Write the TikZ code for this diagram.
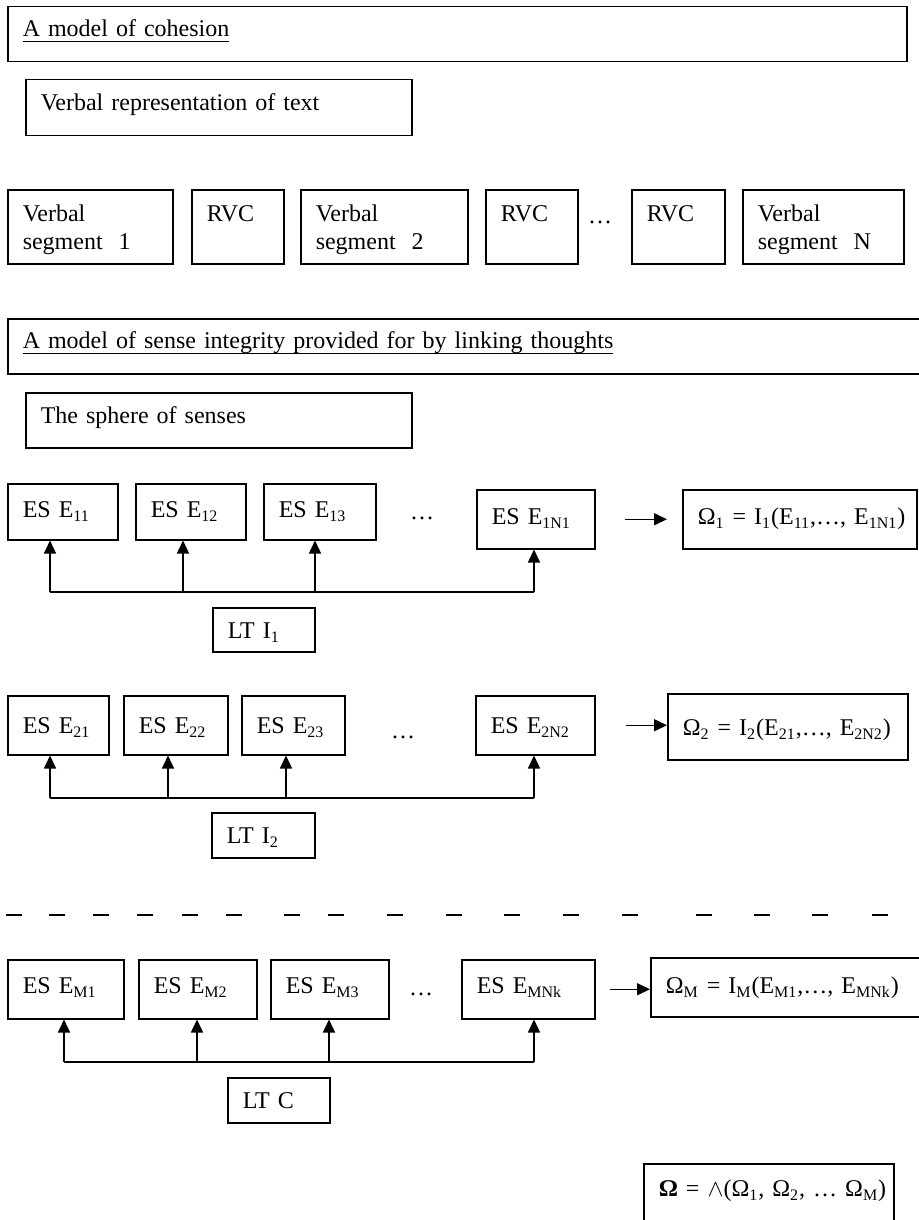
\documentclass[tikz,border=0pt]{standalone}
\usepackage{fontspec}
\setmainfont{Liberation Serif}
\usepackage{tikz}
\usetikzlibrary{arrows.meta}
\newcommand{\uln}[1]{\setbox0\hbox{#1}\rlap{\vrule height -2.2pt depth 2.8pt width \wd0}\box0}
\newcommand{\twoline}[2]{\begin{tabular}[t]{@{}l@{}}#1\\#2\end{tabular}}
\tikzset{
  box/.style={draw, line width=0.75pt, anchor=north west, inner xsep=7.5pt, inner ysep=0pt,
    align=left, font=\fontsize{12}{14}\selectfont},
  arr/.style={line width=0.75pt, -{Triangle[length=6.5pt,width=6pt]}},
  bus/.style={line width=0.75pt},
  dotsnode/.style={anchor=base, inner sep=0pt, font=\fontsize{12}{14}\selectfont}
}

\begin{document}
\begin{tikzpicture}[x=0.5pt,y=-0.5pt]
\useasboundingbox (0,0) rectangle (918,1220);

% cohesion
\node[box, text width=434.5pt, text height=15pt, text depth=12.5pt] (cohesion) at (7,6) {\uln{A model of cohesion}};
\node[box, text width=178pt, text height=15.5pt, text depth=12.5pt] (verbrep) at (25,79) {Verbal representation of text};

\node[box, text width=67.5pt, text height=16pt, text depth=21pt] (seg1) at (7,189) {\twoline{Verbal}{segment~ 1}};
\node[box, text width=31pt, text height=16pt, text depth=21pt] (rvc1) at (191,189) {RVC};
\node[box, text width=68.5pt, text height=16pt, text depth=21pt] (seg2) at (300,189) {\twoline{Verbal}{segment~ 2}};
\node[box, text width=31pt, text height=16pt, text depth=21pt] (rvc2) at (485,189) {RVC};
\node[dotsnode] (segdots) at (600,223) {…};
\node[box, text width=31.5pt, text height=16pt, text depth=21pt] (rvc3) at (631,189) {RVC};
\node[box, text width=65.5pt, text height=16pt, text depth=21pt] (segN) at (742,189) {\twoline{Verbal}{segment~ N}};

% sense integrity
\node[box, text width=449pt, text height=15pt, text depth=12.5pt] (sense) at (7,318) {\uln{A model of sense integrity provided for by linking thoughts}};
\node[box, text width=178pt, text height=15.5pt, text depth=12pt] (sphere) at (25,392) {The sphere of senses};

% first group
\node[box, text width=40pt, text height=17pt, text depth=11pt] (e11) at (7,483) {ES E\textsubscript{11}};
\node[box, text width=40pt, text height=17pt, text depth=11pt] (e12) at (135,483) {ES E\textsubscript{12}};
\node[box, text width=41pt, text height=17pt, text depth=11pt] (e13) at (263,483) {ES E\textsubscript{13}};
\node[dotsnode] (dots1) at (422,519) {…};
\node[box, text width=44pt, text height=17.5pt, text depth=12pt] (e1n) at (476,489) {ES E\textsubscript{1N1}};
\node[box, text width=102pt, text height=17.5pt, text depth=12pt] (om1) at (682,489) {\mbox{Ω\textsubscript{1} = I\textsubscript{1}(E\textsubscript{11},…, E\textsubscript{1N1})}};
\node[box, text width=36pt, text height=15.5pt, text depth=6.5pt] (lt1) at (212,607) {LT I\textsubscript{1}};

\coordinate (a11) at (50,592);
\coordinate (a12) at (183,592);
\coordinate (a13) at (315,592);
\coordinate (a14) at (534,592);
\draw[bus] (a11) -- (a14);
\draw[arr] (a11) -- (a11 |- e11.south);
\draw[arr] (a12) -- (a12 |- e12.south);
\draw[arr] (a13) -- (a13 |- e13.south);
\draw[arr] (a14) -- (a14 |- e1n.south);
\draw[arr, shorten <=14.5pt, shorten >=7.5pt] (e1n) -- (om1);

% second group
\node[box, text width=35.5pt, text height=19pt, text depth=10.5pt] (e21) at (7,695) {ES E\textsubscript{21}};
\node[box, text width=37pt, text height=19pt, text depth=10.5pt] (e22) at (123,695) {ES E\textsubscript{22}};
\node[box, text width=36.5pt, text height=19pt, text depth=10.5pt] (e23) at (241,695) {ES E\textsubscript{23}};
\node[dotsnode] (dots2) at (403,738) {…};
\node[box, text width=44.5pt, text height=19pt, text depth=10.5pt] (e2n) at (475,695) {ES E\textsubscript{2N2}};
\node[box, text width=105pt, text height=21pt, text depth=12pt] (om2) at (667,693) {\mbox{Ω\textsubscript{2} = I\textsubscript{2}(E\textsubscript{21},…, E\textsubscript{2N2})}};
\node[box, text width=36.5pt, text height=15.5pt, text depth=7pt] (lt2) at (211,812) {LT I\textsubscript{2}};

\coordinate (a21) at (50,798);
\coordinate (a22) at (168,798);
\coordinate (a23) at (286,798);
\coordinate (a24) at (534,798);
\draw[bus] (a21) -- (a24);
\draw[arr] (a21) -- (a21 |- e21.south);
\draw[arr] (a22) -- (a22 |- e22.south);
\draw[arr] (a23) -- (a23 |- e23.south);
\draw[arr] (a24) -- (a24 |- e2n.south);
\draw[arr, shorten <=15pt] (e2n.east) -- (e2n.east -| om2.west);

% gap
\foreach \x in {6,49,93,137,182,226,284,328,387,446,504,563,622,696,754,812,872}
  \draw[bus] (\x,915) -- ++(16,0);

% last group
\node[box, text width=43pt, text height=17pt, text depth=12.5pt] (em1) at (7,959) {ES E\textsubscript{M1}};
\node[box, text width=44pt, text height=17pt, text depth=12.5pt] (em2) at (138,959) {ES E\textsubscript{M2}};
\node[box, text width=44pt, text height=17pt, text depth=12.5pt] (em3) at (270,959) {ES E\textsubscript{M3}};
\node[dotsnode] (dots3) at (421,995) {…};
\node[box, text width=51.5pt, text height=17pt, text depth=12.5pt] (emn) at (461,959) {ES E\textsubscript{MNk}};
\node[box, text width=127.5pt, text height=18pt, text depth=11.5pt] (omm) at (650,957) {\mbox{Ω\textsubscript{M} = I\textsubscript{M}(E\textsubscript{M1},…, E\textsubscript{MNk})}};
\node[box, text width=36pt, text height=15.5pt, text depth=7pt] (ltc) at (227,1077) {LT C};

\coordinate (a31) at (64,1062);
\coordinate (a32) at (197,1062);
\coordinate (a33) at (329,1062);
\coordinate (a34) at (534,1062);
\draw[bus] (a31) -- (a34);
\draw[arr] (a31) -- (a31 |- em1.south);
\draw[arr] (a32) -- (a32 |- em2.south);
\draw[arr] (a33) -- (a33 |- em3.south);
\draw[arr] (a34) -- (a34 |- emn.south);
\draw[arr, shorten <=7pt] (emn.east) -- (emn.east -| omm.west);

% result
\node[box, text width=110pt, text height=16.5pt, text depth=18.5pt] (omega) at (643,1163) {\mbox{\textbf{Ω} = $\wedge$(Ω\textsubscript{1}, Ω\textsubscript{2}, … Ω\textsubscript{M})}};
\end{tikzpicture}
\end{document}
